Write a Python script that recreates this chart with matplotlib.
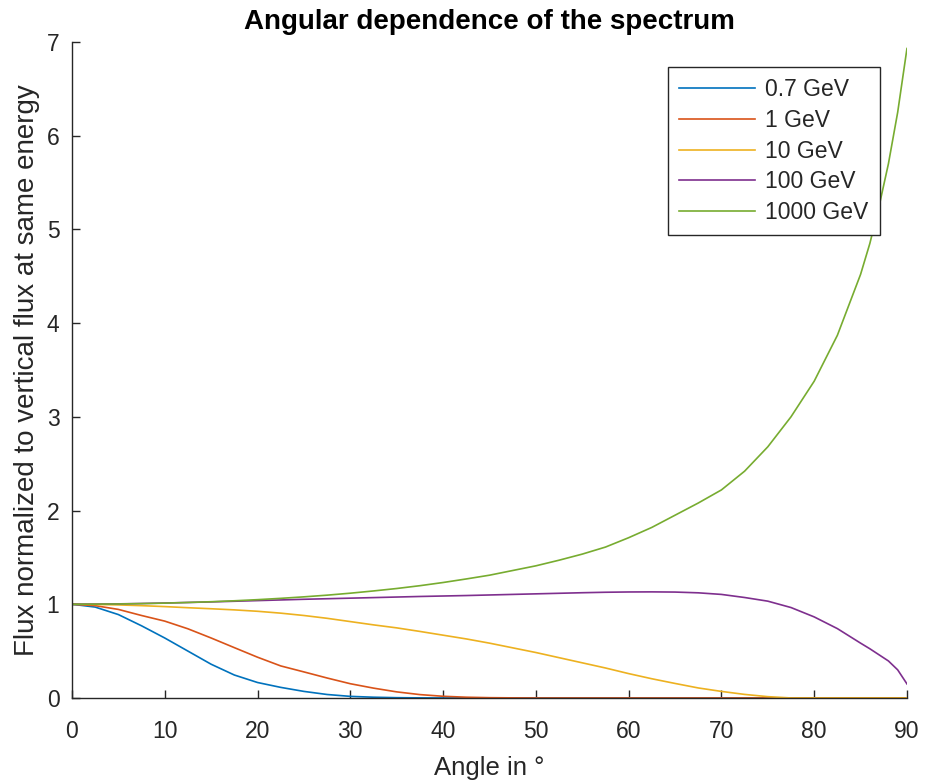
"""Angular dependence of the muon spectrum, normalized to vertical flux."""
import matplotlib
matplotlib.use("Agg")
import matplotlib.pyplot as plt

plt.rcParams["font.family"] = ["Liberation Sans", "DejaVu Sans"]

# zenith angle grid in degrees (denser near the horizon)
angle = [
    0, 2.5, 5, 7.5, 10, 12.5, 15, 17.5, 20, 22.5,
    25, 27.5, 30, 32.5, 35, 37.5, 40, 42.5, 45, 47.5,
    50, 52.5, 55, 57.5, 60, 62.5, 65, 67.5, 70, 72.5,
    75, 77.5, 80, 82.5, 85, 86, 87, 88, 89, 90,
]

flux_07 = [
    1.0, 0.97, 0.89, 0.77, 0.64, 0.50, 0.36, 0.245, 0.165, 0.113,
    0.07, 0.037, 0.017, 0.008, 0.003, 0.001, 0.0, 0.0, 0.0, 0.0,
    0.0, 0.0, 0.0, 0.0, 0.0, 0.0, 0.0, 0.0, 0.0, 0.0,
    0.0, 0.0, 0.0, 0.0, 0.0, 0.0, 0.0, 0.0, 0.0, 0.0,
]
flux_1 = [
    1.0, 0.985, 0.945, 0.88, 0.82, 0.738, 0.64, 0.537, 0.435, 0.342,
    0.278, 0.213, 0.152, 0.105, 0.065, 0.036, 0.018, 0.008, 0.003, 0.001,
    0.0, 0.0, 0.0, 0.0, 0.0, 0.0, 0.0, 0.0, 0.0, 0.0,
    0.0, 0.0, 0.0, 0.0, 0.0, 0.0, 0.0, 0.0, 0.0, 0.0,
]
flux_10 = [
    1.0, 0.998, 0.993, 0.985, 0.975, 0.963, 0.952, 0.94, 0.925, 0.905,
    0.88, 0.85, 0.815, 0.78, 0.748, 0.71, 0.67, 0.63, 0.585, 0.535,
    0.485, 0.43, 0.375, 0.32, 0.26, 0.205, 0.155, 0.107, 0.07, 0.038,
    0.014, 0.0, 0.0, 0.0, 0.0, 0.0, 0.0, 0.0, 0.0, 0.0,
]
flux_100 = [
    1.0, 1.001, 1.004, 1.008, 1.013, 1.019, 1.025, 1.032, 1.039, 1.046,
    1.053, 1.059, 1.065, 1.071, 1.077, 1.083, 1.088, 1.093, 1.099, 1.105,
    1.111, 1.117, 1.123, 1.128, 1.131, 1.132, 1.13, 1.122, 1.105, 1.072,
    1.033, 0.965, 0.865, 0.74, 0.585, 0.525, 0.46, 0.395, 0.30, 0.15,
]
flux_1000 = [
    1.0, 1.001, 1.003, 1.007, 1.012, 1.019, 1.027, 1.037, 1.049, 1.063,
    1.079, 1.097, 1.118, 1.142, 1.168, 1.198, 1.232, 1.27, 1.31, 1.36,
    1.41, 1.47, 1.535, 1.61, 1.71, 1.82, 1.95, 2.08, 2.22, 2.42,
    2.68, 3.0, 3.38, 3.87, 4.52, 4.85, 5.25, 5.7, 6.25, 6.93,
]

labels = ["0.7 GeV", "1 GeV", "10 GeV", "100 GeV", "1000 GeV"]
colors = ["#0072BD", "#D95319", "#EDB120", "#7E2F8E", "#77AC30"]
series = [flux_07, flux_1, flux_10, flux_100, flux_1000]

TEXT = "#262626"

fig = plt.figure(figsize=(9.25, 7.83), dpi=100)
ax = fig.add_axes([0.0778, 0.1086, 0.9027, 0.8378])

for y, lab, c in zip(series, labels, colors):
    ax.plot(angle, y, color=c, linewidth=1.2, label=lab)

ax.set_xlim(0, 90)
ax.set_ylim(0, 7)
ax.set_xticks(range(0, 91, 10))
ax.set_yticks(range(0, 8))

# box off, ticks pointing into the plot
for side in ("top", "right"):
    ax.spines[side].set_visible(False)
for side in ("left", "bottom"):
    ax.spines[side].set_color(TEXT)
    ax.spines[side].set_linewidth(1.0)
ax.tick_params(axis="both", direction="in", length=6, width=1.0,
               colors=TEXT, labelsize=16.5)
ax.tick_params(axis="x", pad=16)
ax.tick_params(axis="y", pad=9)

ax.set_xlabel("Angle in °", fontsize=18.5, color=TEXT, labelpad=9)
ax.set_ylabel("Flux normalized to vertical flux at same energy",
              fontsize=20, color=TEXT, labelpad=5)
ax.set_title("Angular dependence of the spectrum", fontsize=20,
             fontweight="bold", color="black", pad=9)

leg = ax.legend(loc="upper right", bbox_to_anchor=(0.9677, 0.9619),
                fontsize=16.5, frameon=True, fancybox=False, framealpha=1,
                handlelength=3.3, handletextpad=0.45, labelspacing=0.33,
                borderpad=0.5, borderaxespad=0)
leg.get_frame().set_edgecolor(TEXT)
leg.get_frame().set_linewidth(1.0)
for t in leg.get_texts():
    t.set_color(TEXT)

fig.savefig("out.png", dpi=100)
plt.close(fig)
